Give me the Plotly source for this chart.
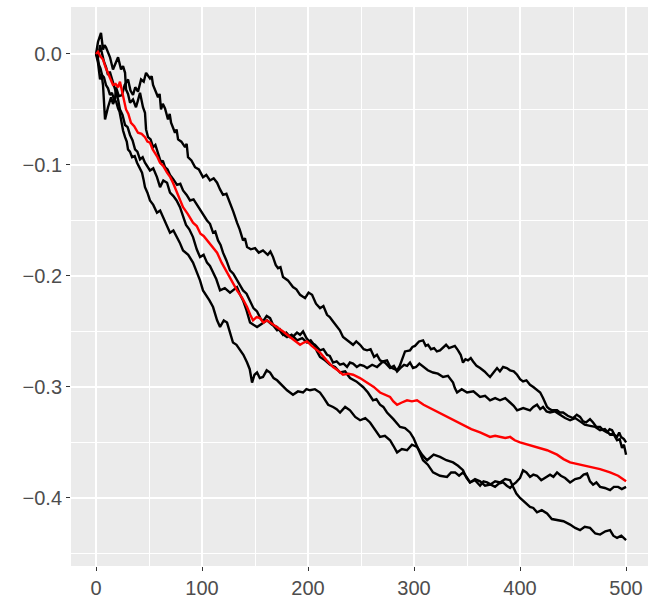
import plotly.graph_objects as go

# (step, value) pairs, one list per path
path_a = [(0, 0), (1.9, -0.008), (3.8, -0.023), (5.2, -0.018), (6.6, -0.028), (8.5, -0.059), (11.3, -0.048),
          (14.2, -0.039), (16.0, -0.045), (17.9, -0.041), (18.9, -0.030), (21.5, -0.038), (24.5, -0.037),
          (27.0, -0.028), (30.2, -0.023), (32.5, -0.033), (34.9, -0.037), (37.0, -0.030), (39.6, -0.034),
          (42.5, -0.023), (45.0, -0.025), (47.2, -0.017), (50.9, -0.022), (52.5, -0.020), (53.8, -0.028),
          (56.0, -0.033), (58.5, -0.039), (60.0, -0.036), (61.3, -0.050), (63.0, -0.045), (65.1, -0.049),
          (67.9, -0.059), (69.5, -0.054), (70.8, -0.062), (72.5, -0.066), (74.5, -0.071), (76.0, -0.068),
          (77.4, -0.077), (80.5, -0.079), (84.0, -0.084), (85.5, -0.081), (86.8, -0.093), (90.0, -0.096),
          (93.4, -0.102), (97.0, -0.104), (100.9, -0.111), (104.0, -0.109), (107.5, -0.114), (111.0, -0.112),
          (114.2, -0.116), (117.0, -0.122), (119.8, -0.127), (123.0, -0.126), (126.4, -0.134), (129.5, -0.142),
          (133.0, -0.152), (135.5, -0.158), (138.7, -0.168), (140.5, -0.166), (142.5, -0.174), (146.0, -0.176),
          (150.0, -0.175), (153.5, -0.179), (157.5, -0.177), (162.0, -0.181), (164.5, -0.178), (167.0, -0.183),
          (169.5, -0.190), (171.7, -0.193), (174.0, -0.192), (176.4, -0.201), (181.0, -0.204), (185.8, -0.210),
          (189.0, -0.212), (192.5, -0.217), (197.2, -0.220), (200.5, -0.215), (203.8, -0.217), (207.5, -0.225),
          (211.3, -0.229), (214.5, -0.227), (217.9, -0.235), (220.5, -0.237), (223.6, -0.241), (227.4, -0.246),
          (230.0, -0.249), (233.0, -0.255), (237.5, -0.258), (242.5, -0.262), (245.5, -0.259), (249.1, -0.262),
          (252.5, -0.266), (255.7, -0.267), (259.0, -0.266), (262.3, -0.273), (265.0, -0.271), (267.9, -0.276),
          (272.5, -0.278), (277.4, -0.283), (281.0, -0.281), (284.0, -0.286), (287.0, -0.283), (290.6, -0.280),
          (293.5, -0.281), (296.2, -0.278), (299.0, -0.283), (301.9, -0.282), (305.0, -0.279), (308.5, -0.282),
          (313.0, -0.285), (317.9, -0.287), (322.5, -0.288), (327.4, -0.291), (332.0, -0.290), (336.8, -0.296),
          (338.5, -0.301), (340.6, -0.305), (345.0, -0.302), (350.0, -0.305), (356.0, -0.304), (362.3, -0.309),
          (367.0, -0.308), (371.7, -0.312), (376.5, -0.310), (381.1, -0.312), (386.0, -0.310), (390.6, -0.314),
          (394.0, -0.317), (397.2, -0.321), (403.0, -0.319), (409.4, -0.321), (412.5, -0.318), (416.0, -0.316),
          (419.0, -0.320), (421.7, -0.318), (425.0, -0.322), (428.3, -0.323), (433.0, -0.322), (437.7, -0.325),
          (442.5, -0.328), (447.2, -0.330), (452.0, -0.328), (456.6, -0.331), (461.0, -0.334), (466.0, -0.335),
          (471.0, -0.336), (475.5, -0.339), (480.0, -0.338), (484.9, -0.343), (488.0, -0.342), (491.5, -0.348),
          (494.0, -0.347), (496.2, -0.355), (498.0, -0.352), (500, -0.361)]

path_b = [(0, 0), (1.9, 0.011), (4.7, 0.019), (6.6, 0.004), (8.0, 0.008), (9.4, 0.006), (11.5, 0.001),
          (13.2, -0.003), (16.0, -0.014), (18.5, -0.008), (20.8, -0.003), (23.6, -0.014), (25.5, -0.011),
          (27.4, -0.017), (28.3, -0.032), (30.2, -0.036), (32.1, -0.044), (34.9, -0.041), (37.7, -0.048),
          (39.5, -0.042), (41.5, -0.035), (44.3, -0.048), (46.2, -0.053), (47.2, -0.068), (49.1, -0.075),
          (51.5, -0.077), (53.8, -0.084), (56.0, -0.082), (58.5, -0.089), (61.3, -0.098), (63.0, -0.096),
          (65.1, -0.102), (67.5, -0.104), (69.8, -0.109), (73.0, -0.113), (76.4, -0.118), (79.5, -0.117),
          (82.1, -0.123), (85.5, -0.127), (88.7, -0.132), (92.0, -0.131), (95.3, -0.136), (98.0, -0.141),
          (100.9, -0.145), (104.7, -0.150), (107.5, -0.153), (110.4, -0.161), (112.5, -0.160), (115.1, -0.168),
          (117.5, -0.172), (119.8, -0.179), (123.0, -0.186), (126.4, -0.195), (129.5, -0.198), (133.0, -0.204),
          (136.0, -0.208), (138.7, -0.213), (142.0, -0.216), (145.3, -0.222), (148.5, -0.229), (151.9, -0.232),
          (155.0, -0.238), (157.5, -0.241), (161.0, -0.236), (164.2, -0.238), (167.5, -0.245), (170.8, -0.249),
          (173.5, -0.248), (176.4, -0.253), (179.5, -0.251), (183.0, -0.255), (186.5, -0.254), (189.6, -0.251),
          (192.5, -0.253), (195.3, -0.250), (198.5, -0.256), (201.9, -0.260), (206.5, -0.262), (211.3, -0.267),
          (214.5, -0.266), (217.9, -0.271), (220.5, -0.272), (223.6, -0.278), (227.0, -0.277), (230.2, -0.280),
          (233.5, -0.279), (236.8, -0.282), (239.5, -0.278), (242.5, -0.279), (246.0, -0.282), (249.1, -0.280),
          (252.5, -0.281), (255.7, -0.283), (260.5, -0.280), (265.1, -0.282), (268.0, -0.279), (270.8, -0.277),
          (274.5, -0.276), (277.0, -0.281), (279.2, -0.283), (284.0, -0.285), (286.5, -0.281), (288.7, -0.276),
          (291.5, -0.268), (296.2, -0.267), (298.5, -0.264), (300.9, -0.263), (304.7, -0.259), (308.5, -0.258),
          (311.0, -0.263), (313.2, -0.262), (316.0, -0.266), (318.9, -0.265), (321.5, -0.268), (324.5, -0.267),
          (327.5, -0.264), (330.2, -0.262), (333.0, -0.265), (335.8, -0.264), (338.5, -0.263), (341.5, -0.267),
          (344.0, -0.271), (346.2, -0.278), (348.5, -0.275), (350.9, -0.276), (353.5, -0.274), (355.7, -0.277),
          (359.0, -0.281), (362.3, -0.283), (366.5, -0.286), (369.5, -0.289), (371.7, -0.291), (375.0, -0.287),
          (378.3, -0.283), (381.0, -0.286), (384.0, -0.282), (387.5, -0.283), (390.6, -0.285), (394.0, -0.286),
          (397.2, -0.289), (400.0, -0.293), (402.8, -0.295), (406.0, -0.294), (409.4, -0.298), (412.5, -0.300),
          (416.0, -0.303), (419.0, -0.305), (421.7, -0.310), (425.5, -0.318), (428.0, -0.320), (430.2, -0.321),
          (434.9, -0.321), (437.5, -0.323), (440.6, -0.323), (445.0, -0.326), (450.0, -0.328), (453.5, -0.325),
          (456.6, -0.327), (459.5, -0.331), (462.3, -0.332), (466.0, -0.329), (468.9, -0.332), (472.0, -0.336),
          (475.5, -0.336), (478.5, -0.339), (482.1, -0.341), (484.5, -0.338), (486.8, -0.339), (489.0, -0.343),
          (491.5, -0.345), (493.5, -0.341), (495.3, -0.345), (498.0, -0.347), (500, -0.350)]

path_c = [(0, 0), (1.8, -0.004), (3.8, 0.008), (5.5, 0.001), (7.5, -0.007), (9.5, -0.012), (11.3, -0.019),
          (13.0, -0.016), (15.1, -0.023), (17.0, -0.029), (18.9, -0.037), (20.8, -0.041), (22.6, -0.050),
          (25.0, -0.055), (27.4, -0.064), (29.8, -0.066), (32.1, -0.073), (34.5, -0.078), (36.8, -0.086),
          (39.0, -0.088), (41.5, -0.095), (44.0, -0.093), (46.2, -0.098), (48.5, -0.101), (50.9, -0.105),
          (54.0, -0.103), (57.5, -0.111), (60.4, -0.120), (63.5, -0.114), (67.0, -0.116), (69.8, -0.125),
          (73.0, -0.128), (76.0, -0.132), (79.2, -0.138), (82.0, -0.145), (84.9, -0.154), (88.0, -0.158),
          (91.5, -0.165), (95.0, -0.176), (98.1, -0.183), (101.5, -0.181), (104.7, -0.188), (107.5, -0.191),
          (110.4, -0.197), (113.5, -0.203), (117.0, -0.213), (121.5, -0.211), (126.4, -0.215), (129.5, -0.213),
          (133.0, -0.210), (136.0, -0.217), (138.7, -0.222), (142.0, -0.231), (145.3, -0.242), (148.5, -0.244),
          (151.9, -0.246), (156.5, -0.243), (161.3, -0.240), (166.0, -0.244), (170.8, -0.246), (175.5, -0.252),
          (180.2, -0.255), (184.5, -0.253), (189.6, -0.258), (194.5, -0.256), (199.1, -0.260), (202.5, -0.258),
          (205.7, -0.262), (208.5, -0.268), (211.3, -0.273), (216.0, -0.276), (220.8, -0.280), (225.5, -0.282),
          (230.2, -0.287), (235.0, -0.286), (239.6, -0.292), (245.5, -0.295), (251.9, -0.300), (256.5, -0.305),
          (261.3, -0.312), (264.5, -0.311), (267.9, -0.316), (271.0, -0.318), (274.5, -0.323), (280.5, -0.329),
          (286.8, -0.336), (291.5, -0.337), (296.2, -0.341), (299.5, -0.346), (302.8, -0.354), (305.5, -0.360),
          (308.5, -0.366), (313.0, -0.370), (317.9, -0.377), (324.5, -0.380), (331.1, -0.381), (335.0, -0.377),
          (338.7, -0.377), (342.5, -0.380), (346.2, -0.377), (349.5, -0.381), (352.8, -0.386), (357.5, -0.384),
          (362.3, -0.389), (365.5, -0.385), (368.9, -0.386), (372.5, -0.388), (376.4, -0.390), (380.0, -0.387),
          (384.0, -0.386), (387.5, -0.389), (390.6, -0.391), (393.5, -0.388), (396.2, -0.386), (400.0, -0.382),
          (402.8, -0.375), (406.0, -0.377), (409.4, -0.381), (412.5, -0.379), (416.0, -0.380), (420.0, -0.384),
          (423.6, -0.382), (428.3, -0.379), (431.5, -0.381), (434.9, -0.377), (438.5, -0.380), (442.5, -0.382),
          (447.2, -0.386), (452.0, -0.383), (456.6, -0.382), (460.0, -0.379), (463.2, -0.378), (466.0, -0.385),
          (468.9, -0.388), (472.0, -0.386), (475.5, -0.390), (480.0, -0.391), (484.9, -0.393), (488.5, -0.390),
          (492.5, -0.390), (496.0, -0.392), (500, -0.390)]

path_d = [(0, 0), (1.5, -0.003), (2.8, -0.010), (4.2, -0.013), (5.7, -0.019), (7.5, -0.021), (9.4, -0.028),
          (11.3, -0.031), (13.2, -0.037), (15.0, -0.035), (17.0, -0.041), (19.0, -0.043), (20.8, -0.049),
          (22.2, -0.052), (23.6, -0.059), (25.5, -0.069), (27.4, -0.075), (29.0, -0.079), (30.2, -0.086),
          (32.0, -0.088), (34.0, -0.093), (36.5, -0.092), (38.7, -0.098), (41.0, -0.102), (43.4, -0.107),
          (44.8, -0.113), (46.2, -0.120), (48.5, -0.125), (50.9, -0.132), (54.0, -0.136), (57.5, -0.143),
          (60.5, -0.141), (63.2, -0.147), (66.5, -0.155), (69.8, -0.161), (73.0, -0.159), (76.4, -0.165),
          (79.0, -0.170), (82.1, -0.177), (87.0, -0.181), (91.5, -0.188), (95.0, -0.196), (98.1, -0.204),
          (100.9, -0.213), (104.0, -0.217), (107.0, -0.222), (110.4, -0.228), (112.3, -0.234), (114.2, -0.240),
          (117.0, -0.246), (120.5, -0.240), (123.6, -0.242), (126.5, -0.251), (129.2, -0.260), (132.5, -0.262),
          (135.8, -0.267), (139.0, -0.271), (142.5, -0.278), (145.0, -0.284), (147.2, -0.296), (149.5, -0.289),
          (151.9, -0.287), (154.5, -0.292), (157.5, -0.291), (161.0, -0.285), (164.2, -0.287), (167.5, -0.292),
          (170.8, -0.294), (175.5, -0.299), (180.2, -0.303), (183.0, -0.305), (185.8, -0.307), (190.5, -0.304),
          (195.3, -0.305), (198.5, -0.302), (201.9, -0.303), (206.5, -0.302), (211.3, -0.305), (215.0, -0.310),
          (219.0, -0.316), (223.6, -0.318), (227.0, -0.320), (230.2, -0.323), (235.0, -0.318), (239.6, -0.321),
          (244.5, -0.327), (249.1, -0.330), (254.0, -0.328), (258.5, -0.332), (263.0, -0.338), (267.9, -0.345),
          (272.5, -0.344), (277.4, -0.348), (280.5, -0.353), (284.0, -0.359), (288.5, -0.356), (293.4, -0.357),
          (298.0, -0.352), (302.8, -0.354), (307.5, -0.361), (312.3, -0.366), (318.5, -0.361), (324.5, -0.363),
          (330.5, -0.366), (336.8, -0.368), (341.5, -0.371), (346.2, -0.375), (349.5, -0.382), (352.8, -0.386),
          (357.5, -0.383), (362.3, -0.385), (367.0, -0.389), (371.7, -0.388), (376.5, -0.385), (381.1, -0.386),
          (386.0, -0.383), (390.6, -0.384), (393.4, -0.390), (396.5, -0.396), (400.0, -0.400), (404.5, -0.404),
          (409.4, -0.408), (412.5, -0.409), (416.0, -0.413), (420.5, -0.411), (425.5, -0.414), (430.0, -0.419),
          (434.9, -0.420), (441.0, -0.421), (447.2, -0.424), (452.0, -0.427), (456.6, -0.429), (461.0, -0.426),
          (466.0, -0.427), (471.0, -0.432), (475.5, -0.433), (480.5, -0.430), (484.9, -0.429), (488.0, -0.434),
          (491.5, -0.436), (495.5, -0.434), (500, -0.438)]

# red path (average of the four black ones)
path_mean = [(0, 0), (1.9, 0.002), (4.0, -0.002), (6.6, -0.005), (9.0, -0.012), (11.3, -0.017), (13.5, -0.021),
             (16.0, -0.028), (18.5, -0.027), (20.8, -0.030), (22.6, -0.025), (25.5, -0.039), (28.3, -0.050),
             (30.5, -0.054), (33.0, -0.062), (36.0, -0.065), (39.6, -0.071), (43.0, -0.072), (46.2, -0.075),
             (48.5, -0.079), (50.9, -0.080), (53.5, -0.086), (55.7, -0.089), (58.0, -0.093), (60.4, -0.098),
             (63.5, -0.101), (67.0, -0.107), (70.0, -0.111), (72.6, -0.116), (76.0, -0.124), (79.2, -0.132),
             (82.1, -0.138), (86.5, -0.144), (91.5, -0.152), (95.0, -0.155), (98.5, -0.162), (101.5, -0.164),
             (104.7, -0.168), (109.5, -0.173), (114.2, -0.179), (118.5, -0.188), (123.6, -0.197), (128.5, -0.205),
             (133.0, -0.213), (138.0, -0.220), (142.5, -0.228), (145.5, -0.235), (148.1, -0.240), (151.5, -0.237),
             (154.7, -0.238), (158.0, -0.242), (161.3, -0.240), (166.0, -0.243), (170.8, -0.246), (176.5, -0.250),
             (183.0, -0.255), (187.5, -0.258), (192.5, -0.262), (196.0, -0.260), (199.1, -0.259), (203.5, -0.263),
             (208.5, -0.267), (211.3, -0.269), (217.5, -0.276), (223.6, -0.282), (228.0, -0.285), (233.0, -0.289),
             (238.0, -0.288), (242.5, -0.289), (249.0, -0.292), (255.7, -0.296), (262.0, -0.300), (267.9, -0.305),
             (272.5, -0.307), (277.4, -0.309), (280.5, -0.313), (284.0, -0.316), (288.5, -0.314), (293.4, -0.312),
             (298.0, -0.313), (302.8, -0.312), (309.0, -0.316), (315.1, -0.319), (323.0, -0.323), (331.1, -0.327),
             (338.5, -0.330), (346.2, -0.334), (354.0, -0.338), (362.3, -0.341), (367.0, -0.343), (371.7, -0.345),
             (376.5, -0.344), (381.1, -0.345), (386.0, -0.346), (390.6, -0.345), (395.0, -0.348), (400.0, -0.350),
             (408.0, -0.352), (416.0, -0.354), (425.5, -0.357), (434.9, -0.361), (441.0, -0.365), (447.2, -0.368),
             (456.5, -0.370), (466.0, -0.372), (475.5, -0.374), (484.9, -0.377), (492.5, -0.380), (500, -0.385)]

x_ticks = [0, 100, 200, 300, 400, 500]
y_ticks = [0.0, -0.1, -0.2, -0.3, -0.4]
y_labels = ["0.0", "\u22120.1", "\u22120.2", "\u22120.3", "\u22120.4"]

fig = go.Figure()
for path, colour in [(path_a, "black"), (path_b, "black"), (path_c, "black"), (path_d, "black"),
                     (path_mean, "red")]:
    xs, ys = zip(*path)
    fig.add_trace(go.Scatter(x=list(xs), y=list(ys), mode="lines",
                             line=dict(color=colour, width=2.4), hoverinfo="skip"))

# ggplot2 grey theme look
axis_common = dict(
    showline=False, zeroline=False, automargin=False,
    showgrid=True, gridcolor="white", gridwidth=1.6,
    ticks="outside", ticklen=4, tickwidth=1.3, tickcolor="#333333",
    tickfont=dict(family="Liberation Sans, Arial, sans-serif", size=20, color="#4D4D4D"),
)
fig.update_xaxes(range=[-23.6, 520.7], tickvals=x_ticks,
                 minor=dict(dtick=50, tick0=0, showgrid=True, gridcolor="white", gridwidth=0.8, ticks=""),
                 **axis_common)
fig.update_yaxes(range=[-0.4613, 0.0423], tickvals=y_ticks, ticktext=y_labels,
                 minor=dict(dtick=0.05, tick0=0, showgrid=True, gridcolor="white", gridwidth=0.8, ticks=""),
                 **axis_common)

fig.update_layout(
    width=650, height=603,
    margin=dict(l=71, r=2, t=7, b=37),
    plot_bgcolor="#EBEBEB", paper_bgcolor="white",
    showlegend=False, hovermode=False,
)

# drop the page's default body margin so the figure sits at the window's corner
fig.write_html("out.html", config={"displayModeBar": False},
               post_script="document.body.style.margin = '0';")
